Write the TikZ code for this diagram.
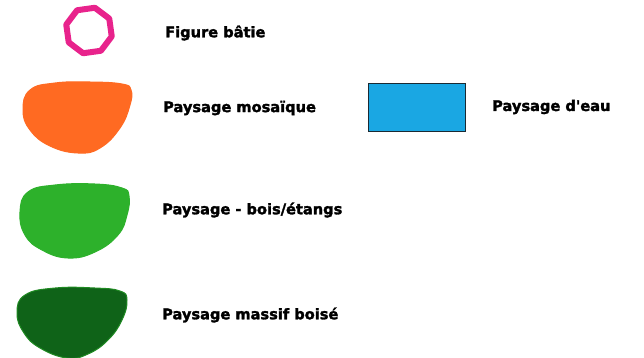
\documentclass[tikz,border=0pt]{standalone}
\usepackage{fontspec}
\setmainfont{DejaVu Sans}[Ligatures=TeXOff, BoldFeatures={FakeBold=2}]
\usetikzlibrary{shapes.geometric}
\definecolor{pinkc}{HTML}{E8238C}
\definecolor{orangec}{HTML}{FF6A22}
\definecolor{lgreen}{HTML}{2DB12B}
\definecolor{dgreen}{HTML}{0F6318}
\definecolor{dgreenb}{HTML}{1F8A22}
\definecolor{bluec}{HTML}{1AA7E3}
\definecolor{blueb}{HTML}{1A2A33}
\tikzset{
  lbl/.style={anchor=west, inner sep=0pt, font=\fontsize{14.6}{17}\selectfont\bfseries},
  blob/.style={line width=1pt},
}
\begin{document}
\begin{tikzpicture}[x=1pt,y=-1pt]
\useasboundingbox (0,0) rectangle (644,358);
% octagon
\node[regular polygon, regular polygon sides=8, draw=pinkc, line width=6pt,
      minimum size=47pt, rotate=8, inner sep=0pt, line join=round] (oct) at (89,30.5) {};
\node[lbl] (t1) at (165,33) {Figure bâtie};
% orange blob
\filldraw[orangec, blob] plot[smooth cycle, tension=0.75] coordinates
  {(30,90) (55,83) (90,82) (122,84) (131,90) (130,105) (120,128) (100,148) (78,153) (50,146) (30,130) (23,110)};
\node[lbl] (t2) at (163,108) {Paysage mosaïque};
% water rectangle
\node[draw=blueb, fill=bluec, line width=1.8pt, minimum width=97pt, minimum height=48pt,
      inner sep=0pt] (water) at (417,107.5) {};
\node[lbl] (t3) at (492,107) {Paysage d'eau};
% light green blob
\filldraw[lgreen, blob] plot[smooth cycle, tension=0.75] coordinates
  {(28,192) (55,185) (95,184) (122,188) (129,196) (127,215) (118,235) (95,252) (68,258) (42,250) (25,235) (20,212)};
\node[lbl] (t4) at (162,210) {Paysage - bois/étangs};
% dark green blob
\filldraw[fill=dgreen, draw=dgreenb, blob] plot[smooth cycle, tension=0.75] coordinates
  {(25,295) (55,288) (95,288) (120,291) (127,300) (122,320) (108,340) (88,354) (67,358) (40,348) (24,333) (17,313)};
\node[lbl] (t5) at (162,315) {Paysage massif boisé};
\end{tikzpicture}
\end{document}
